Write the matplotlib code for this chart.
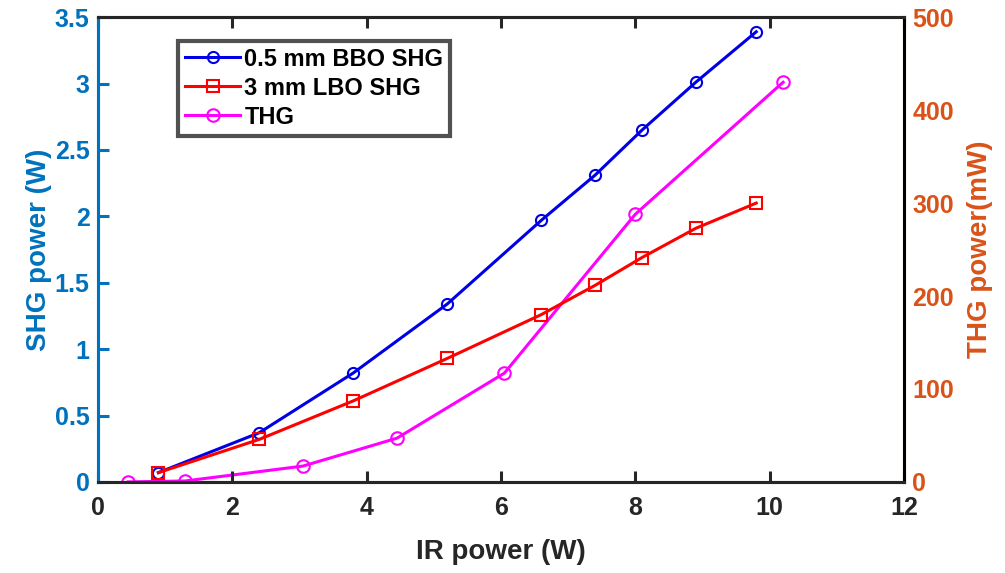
import matplotlib.pyplot as plt

plt.rcParams['font.family'] = ['Liberation Sans', 'DejaVu Sans']
plt.rcParams['font.weight'] = 'bold'

# IR pump power (W)
ir_shg = [0.9, 2.4, 3.8, 5.2, 6.6, 7.4, 8.1, 8.9, 9.8]
bbo_shg = [0.07, 0.37, 0.82, 1.34, 1.97, 2.31, 2.65, 3.01, 3.39]
lbo_shg = [0.07, 0.32, 0.61, 0.93, 1.26, 1.48, 1.69, 1.91, 2.10]

ir_thg = [0.45, 1.3, 3.05, 4.45, 6.05, 8.0, 10.2]
thg = [0, 1, 17, 47, 117, 288, 430]

left_col = '#0072BD'
right_col = '#D95319'
dark = '#262626'

fig = plt.figure(figsize=(10.05, 5.73), dpi=100)
ax = fig.add_axes([0.0975, 0.159, 0.802, 0.811])
ax2 = ax.twinx()

l1, = ax.plot(ir_shg, bbo_shg, color='#0000E6', lw=2.2, marker='o', ms=8,
              mfc='none', mew=1.5, label='0.5 mm BBO SHG')
l2, = ax.plot(ir_shg, lbo_shg, color='#FF0000', lw=2.2, marker='s', ms=8,
              mfc='none', mew=1.5, label='3 mm LBO SHG')
l3, = ax2.plot(ir_thg, thg, color='#FF00FF', lw=2.2, marker='o', ms=9,
               mfc='none', mew=1.5, label='THG')

ax.set_xlim(0, 12)
ax.set_ylim(0, 3.5)
ax2.set_ylim(0, 500)
ax.set_xticks(range(0, 13, 2))
ax.set_yticks([0, 0.5, 1, 1.5, 2, 2.5, 3, 3.5])
ax.set_yticklabels(['0', '0.5', '1', '1.5', '2', '2.5', '3', '3.5'])
ax2.set_yticks(range(0, 501, 100))

ax.set_xlabel('IR power (W)', fontsize=20, fontweight='bold', color=dark, labelpad=14)
ax.set_ylabel('SHG power (W)', fontsize=20, fontweight='bold', color=left_col, labelpad=2)
ax2.set_ylabel('THG power(mW)', fontsize=20, fontweight='bold', color=right_col, labelpad=9)

for a in (ax, ax2):
    for s in a.spines.values():
        s.set_linewidth(2.2)
ax.spines['bottom'].set_color(dark)
ax.spines['top'].set_color(dark)
ax.spines['left'].set_color(left_col)
ax2.spines['left'].set_color(left_col)
ax2.spines['right'].set_color(right_col)
ax2.spines['bottom'].set_color(dark)
ax2.spines['top'].set_color(dark)

ax.tick_params(axis='x', direction='in', length=8, width=2.2, colors=dark,
               labelsize=18, top=True, pad=10)
ax.tick_params(axis='y', direction='in', length=8, width=2.2, colors=left_col,
               labelsize=18, pad=6)
ax2.tick_params(axis='y', direction='in', length=0, colors=right_col,
                labelsize=18, pad=6)
for lab in ax.get_xticklabels() + ax.get_yticklabels() + ax2.get_yticklabels():
    lab.set_fontweight('bold')

leg = ax.legend(handles=[l1, l2, l3], loc='upper left', bbox_to_anchor=(0.085, 0.975),
                frameon=True, fancybox=False, borderpad=0.3,
                handlelength=2.3, handletextpad=0.2, labelspacing=0.25,
                prop={'weight': 'bold', 'size': 17})
leg.get_frame().set_edgecolor('#262626')
leg.get_frame().set_linewidth(3)
leg.set_zorder(10)
ax.set_zorder(ax2.get_zorder() + 1)
ax.patch.set_visible(False)

fig.savefig('out.png', dpi=100)
